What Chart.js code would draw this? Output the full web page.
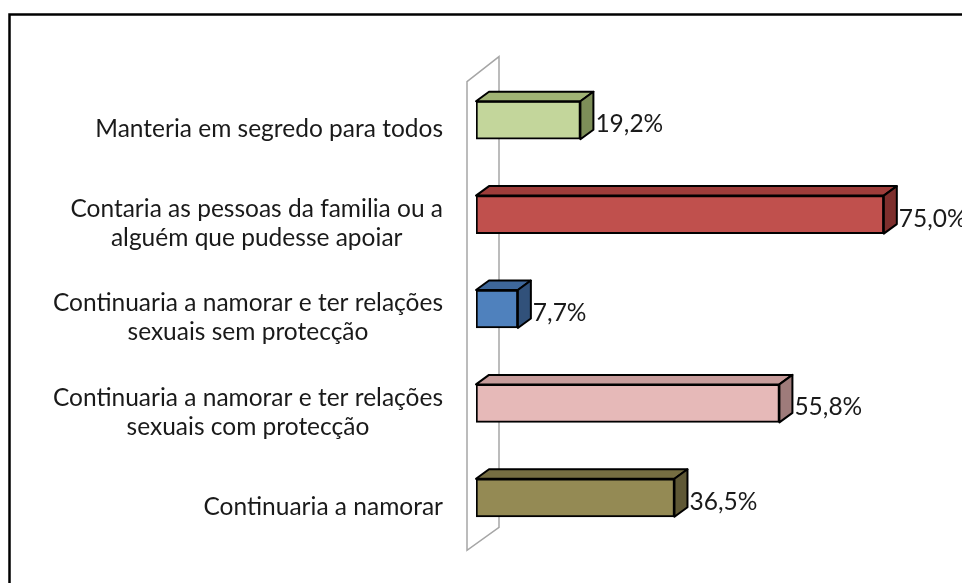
<!DOCTYPE html>
<html>
<head>
<meta charset="utf-8">
<script src="https://cdn.jsdelivr.net/npm/chart.js@4"></script>
<style>
  html, body { margin: 0; padding: 0; background: #fff; }
  #wrap { width: 962px; height: 583px; }
</style>
</head>
<body>
<div id="wrap"><canvas id="chart" width="962" height="583"></canvas></div>
<script>
// categorias (cada uma dividida em linhas)
const categories = [
    ['Manteria em segredo para todos'],
    ['Contaria as pessoas da familia ou a', 'alguém que pudesse apoiar'],
    ['Continuaria a namorar e ter relações', 'sexuais sem protecção'],
    ['Continuaria a namorar e ter relações', 'sexuais com protecção'],
    ['Continuaria a namorar']
];
const values = [19.2, 75.0, 7.7, 55.8, 36.5];
const valueLabels = ['19,2%', '75,0%', '7,7%', '55,8%', '36,5%'];

// cores: frente, topo e lado de cada barra
const frontColors = ['#C3D69B', '#C0504D', '#4F81BD', '#E6B9B8', '#948A54'];
const topColors = ['#A0B374', '#9E3D3A', '#3E679A', '#C79C9B', '#766E42'];
const sideColors = ['#7D8E58', '#7E2F2D', '#31517A', '#9E7B7A', '#5F5835'];

const FONT = '24.5px Lato, "Open Sans", sans-serif';
const DX = 13, DY = -9.5; // profundidade do efeito 3D

// parede (wall) por trás das barras
const wallPlugin = {
    id: 'wall',
    beforeDatasetsDraw(chart) {
        const ctx = chart.ctx;
        const area = chart.chartArea;
        const x0 = chart.scales.x.getPixelForValue(0);
        ctx.save();
        ctx.strokeStyle = '#A6A6A6';
        ctx.lineWidth = 1.5;
        ctx.beginPath();
        ctx.moveTo(x0 - 9, area.top + 8.6);
        ctx.lineTo(x0 + 23, area.top - 16.4);
        ctx.lineTo(x0 + 23, area.bottom - 17.6);
        ctx.lineTo(x0 - 9, area.bottom + 5.4);
        ctx.closePath();
        ctx.stroke();
        ctx.restore();
    }
};

// faces de topo e lado + rótulos
const boxPlugin = {
    id: 'box3d',
    afterDatasetsDraw(chart) {
        const ctx = chart.ctx;
        const meta = chart.getDatasetMeta(0);
        const x0 = chart.scales.x.getPixelForValue(0);
        ctx.save();
        ctx.lineWidth = 2;
        ctx.strokeStyle = '#000';
        ctx.lineJoin = 'round';
        meta.data.forEach((bar, i) => {
            const p = bar.getProps(['x', 'y', 'height'], true);
            const x1 = p.x;
            const top = p.y - p.height / 2;
            const bottom = p.y + p.height / 2;
            // topo
            ctx.fillStyle = topColors[i];
            ctx.beginPath();
            ctx.moveTo(x0, top);
            ctx.lineTo(x1, top);
            ctx.lineTo(x1 + DX, top + DY);
            ctx.lineTo(x0 + DX, top + DY);
            ctx.closePath();
            ctx.fill();
            ctx.stroke();
            // lado
            ctx.fillStyle = sideColors[i];
            ctx.beginPath();
            ctx.moveTo(x1, top);
            ctx.lineTo(x1 + DX, top + DY);
            ctx.lineTo(x1 + DX, bottom + DY);
            ctx.lineTo(x1, bottom);
            ctx.closePath();
            ctx.fill();
            ctx.stroke();
            // valor
            ctx.fillStyle = '#1a1a1a';
            ctx.font = FONT;
            ctx.textAlign = 'left';
            ctx.textBaseline = 'middle';
            ctx.fillText(valueLabels[i], x1 + DX + 2, p.y + 4);
        });
        ctx.restore();
    },
    afterDraw(chart) {
        const ctx = chart.ctx;
        const yScale = chart.scales.y;
        ctx.save();
        ctx.font = FONT;
        ctx.fillStyle = '#1a1a1a';
        ctx.textAlign = 'center';
        ctx.textBaseline = 'middle';
        const right = 443;
        const lineH = 29;
        categories.forEach((lines, i) => {
            const w = Math.max(...lines.map(l => ctx.measureText(l).width));
            const cx = right - w / 2;
            const cy = yScale.getPixelForValue(i) + 9;
            lines.forEach((l, j) => {
                ctx.fillText(l, cx, cy + (j - (lines.length - 1) / 2) * lineH);
            });
        });
        // moldura
        ctx.strokeStyle = '#000';
        ctx.lineWidth = 2.5;
        ctx.strokeRect(9.5, 14.5, 1000, 600);
        ctx.restore();
    }
};

new Chart(document.getElementById('chart'), {
    type: 'bar',
    data: {
        labels: categories,
        datasets: [{
            data: values,
            backgroundColor: frontColors,
            borderColor: '#000',
            borderWidth: 2,
            borderSkipped: false,
            barThickness: 38
        }]
    },
    options: {
        indexAxis: 'y',
        responsive: false,
        animation: false,
        layout: { padding: { left: 476, right: 51, top: 73, bottom: 38 } },
        scales: {
            x: { display: false, min: 0, max: 80 },
            y: { display: false }
        },
        plugins: {
            legend: { display: false },
            tooltip: { enabled: false }
        }
    },
    plugins: [wallPlugin, boxPlugin]
});
</script>
</body>
</html>
